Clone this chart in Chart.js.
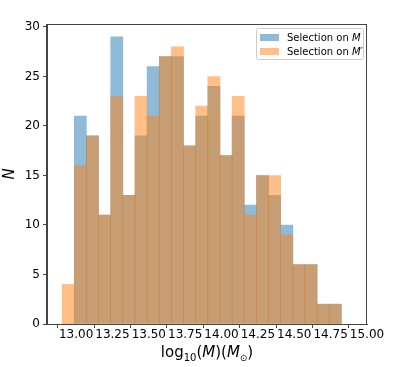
<!DOCTYPE html>
<html>
<head>
<meta charset="utf-8">
<script src="https://cdn.jsdelivr.net/npm/chart.js@4"></script>
<style>
  body { margin: 0; background: #fff; }
  #wrap { width: 399px; height: 367px; }
</style>
</head>
<body>
<div id="wrap"><canvas id="hist" width="399" height="367"></canvas></div>
<script>
/* --------------- Bin centres (log10 M) --------------------- */

const binCenters = [
  12.9457, 13.0292, 13.1127, 13.1962, 13.2797, 13.3631, 13.4466, 13.5301,
  13.6136, 13.6971, 13.7806, 13.8640, 13.9475, 14.0310, 14.1145, 14.1980,
  14.2814, 14.3649, 14.4484, 14.5319, 14.6154, 14.6989, 14.7823,
];

/* --------------- Counts per bin --------------------- */

const countsM = [0, 21, 19, 11, 29, 13, 19, 26, 27, 27, 18, 21, 24, 17, 21, 12, 15, 13, 10, 6, 6, 2, 2];
const countsMprime = [4, 16, 19, 11, 23, 13, 23, 21, 27, 28, 18, 22, 25, 17, 23, 11, 15, 15, 9, 6, 6, 2, 2];

/* --------------- Ticks --------------------- */

const xTicks = [13.0, 13.25, 13.5, 13.75, 14.0, 14.25, 14.5, 14.75, 15.0];
const yTicks = [0, 5, 10, 15, 20, 25, 30];

const blue = "rgba(31, 119, 180, 0.5)";
const orange = "rgba(255, 127, 14, 0.5)";
const font = '"DejaVu Sans", sans-serif';
const italic = 'oblique 15px "DejaVu Sans", sans-serif';

const toPoints = (vals) => vals.map((v, i) => ({ x: binCenters[i], y: v }));

/* --------------- Box, legend and axis titles --------------------- */

const extras = {
  id: "extras",
  afterDraw(chart) {
    const ctx = chart.ctx;
    const a = chart.chartArea;
    ctx.save();

    // full box like matplotlib spines
    ctx.strokeStyle = "#444";
    ctx.lineWidth = 1;
    ctx.strokeRect(a.left - 0.5, a.top + 0.5, a.right - a.left, a.bottom - a.top);

    // legend
    const lx = a.right - 111, ly = a.top + 4, lw = 107, lh = 31;
    ctx.fillStyle = "rgba(255,255,255,0.8)";
    ctx.strokeStyle = "#ccc";
    ctx.beginPath();
    ctx.roundRect(lx + 0.5, ly + 0.5, lw, lh, 2);
    ctx.fill();
    ctx.stroke();
    const rows = [
      { color: blue, prime: false },
      { color: orange, prime: true },
    ];
    rows.forEach((r, i) => {
      const y = ly + 9 + i * 14;
      ctx.fillStyle = r.color;
      ctx.fillRect(lx + 4, y - 3, 19, 7);
      ctx.fillStyle = "#000";
      ctx.textBaseline = "middle";
      ctx.font = "10px " + font;
      let tx = lx + 31;
      ctx.fillText("Selection on ", tx, y + 1);
      tx += ctx.measureText("Selection on ").width;
      ctx.font = 'oblique 10px "DejaVu Sans", sans-serif';
      ctx.fillText(r.prime ? "M\u2032" : "M", tx, y + 1);
    });

    // x title: log10(M)(M_sun)
    const parts = [
      { t: "log", f: "15px " + font, dy: 0 },
      { t: "10", f: "10px " + font, dy: 4 },
      { t: "(", f: "15px " + font, dy: 0 },
      { t: "M", f: italic, dy: 0 },
      { t: ")(", f: "15px " + font, dy: 0 },
      { t: "M", f: italic, dy: 0 },
      { t: "\u2299", f: "9px " + font, dy: 4 },
      { t: ")", f: "15px " + font, dy: 0 },
    ];
    let total = 0;
    parts.forEach((p) => { ctx.font = p.f; p.w = ctx.measureText(p.t).width; total += p.w; });
    let x = (a.left + a.right) / 2 - total / 2;
    ctx.fillStyle = "#000";
    ctx.textBaseline = "alphabetic";
    parts.forEach((p) => {
      ctx.font = p.f;
      ctx.fillText(p.t, x, 357 + p.dy);
      x += p.w;
    });

    // y title
    ctx.translate(14, (a.top + a.bottom) / 2);
    ctx.rotate(-Math.PI / 2);
    ctx.font = italic;
    ctx.textAlign = "center";
    ctx.textBaseline = "alphabetic";
    ctx.fillText("N", 0, 0);
    ctx.restore();
  },
};

/* --------------- Chart --------------------- */

new Chart(document.getElementById("hist"), {
  type: "bar",
  plugins: [extras],
  data: {
    datasets: [
      {
        label: "Selection on M",
        data: toPoints(countsM),
        backgroundColor: blue,
        order: 1,
      },
      {
        label: "Selection on M\u2032",
        data: toPoints(countsMprime),
        backgroundColor: orange,
        order: 0,
      },
    ],
  },
  options: {
    responsive: false,
    animation: false,
    devicePixelRatio: 1,
    layout: { padding: { top: 24, right: 32, bottom: 0, left: 0 } },
    datasets: {
      bar: {
        grouped: false,
        barPercentage: 1,
        categoryPercentage: 1,
        borderWidth: 0,
      },
    },
    plugins: {
      legend: { display: false },
      tooltip: { enabled: false },
    },
    scales: {
      x: {
        type: "linear",
        offset: false,
        min: 12.8,
        max: 15.0,
        afterBuildTicks: (s) => { s.ticks = xTicks.map((v) => ({ value: v })); },
        afterFit: (s) => { s.height = 43; },
        grid: { drawOnChartArea: false, tickLength: 4, tickColor: "#444" },
        border: { color: "#444", width: 1 },
        ticks: {
          autoSkip: false,
          maxRotation: 0,
          padding: 0,
          color: "#000",
          font: { family: font, size: 12 },
          callback: (v) => v.toFixed(2),
        },
      },
      y: {
        min: 0,
        max: 30.3,
        afterBuildTicks: (s) => { s.ticks = yTicks.map((v) => ({ value: v })); },
        afterFit: (s) => { s.width = 47; },
        grid: { drawOnChartArea: false, tickLength: 4, tickColor: "#444" },
        border: { color: "#444", width: 1 },
        ticks: {
          padding: 3,
          color: "#000",
          font: { family: font, size: 12 },
        },
      },
    },
  },
});
</script>
</body>
</html>
